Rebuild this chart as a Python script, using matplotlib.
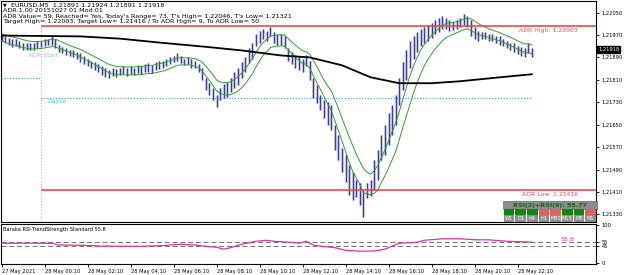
import matplotlib
matplotlib.use("Agg")
import matplotlib.pyplot as plt
import matplotlib.transforms as mtransforms
from matplotlib.patches import Rectangle
import numpy as np
import pandas as pd

# ---------------- data ----------------
highs = [1.21975, 1.21968, 1.21961, 1.21957, 1.21954, 1.21950, 1.21943, 1.21943, 1.21940, 1.21943,
         1.21947, 1.21950, 1.21954, 1.21957, 1.21965, 1.21957, 1.21933, 1.21926, 1.21922, 1.21915,
         1.21915, 1.21908, 1.21904, 1.21894, 1.21886, 1.21879, 1.21872, 1.21865, 1.21858, 1.21851,
         1.21844, 1.21851, 1.21847, 1.21854, 1.21858, 1.21851, 1.21858, 1.21854, 1.21862, 1.21858,
         1.21865, 1.21869, 1.21862, 1.21872, 1.21879, 1.21876, 1.21886, 1.21890, 1.21894, 1.21904,
         1.21894, 1.21886, 1.21890, 1.21883, 1.21879, 1.21865, 1.21854, 1.21815, 1.21798, 1.21780,
         1.21755, 1.21780, 1.21795, 1.21801, 1.21815, 1.21837, 1.21851, 1.21872, 1.21890, 1.21922,
         1.21943, 1.21972, 1.21986, 1.21993, 1.21986, 1.22000, 1.21979, 1.21972, 1.21975, 1.21965,
         1.21922, 1.21908, 1.21897, 1.21894, 1.21886, 1.21897, 1.21879, 1.21815, 1.21791, 1.21755,
         1.21737, 1.21730, 1.21719, 1.21648, 1.21613, 1.21566, 1.21541, 1.21506, 1.21481, 1.21453,
         1.21442, 1.21417, 1.21442, 1.21453, 1.21524, 1.21559, 1.21613, 1.21648, 1.21691, 1.21719,
         1.21755, 1.21815, 1.21872, 1.21915, 1.21950, 1.21968, 1.21979, 1.21993, 1.21997, 1.22007,
         1.22011, 1.22022, 1.22029, 1.22039, 1.22029, 1.22022, 1.22018, 1.22025, 1.22032, 1.22046,
         1.22036, 1.22022, 1.21997, 1.21986, 1.21979, 1.21982, 1.21975, 1.21975, 1.21968, 1.21965,
         1.21957, 1.21950, 1.21943, 1.21940, 1.21929, 1.21926, 1.21922, 1.21940, 1.21924]
lows = [1.21950, 1.21940, 1.21933, 1.21926, 1.21929, 1.21922, 1.21915, 1.21918, 1.21915, 1.21918,
        1.21922, 1.21926, 1.21929, 1.21933, 1.21936, 1.21922, 1.21908, 1.21904, 1.21897, 1.21894,
        1.21890, 1.21886, 1.21872, 1.21865, 1.21858, 1.21851, 1.21844, 1.21837, 1.21826, 1.21819,
        1.21815, 1.21823, 1.21819, 1.21826, 1.21830, 1.21823, 1.21830, 1.21826, 1.21833, 1.21830,
        1.21837, 1.21837, 1.21833, 1.21844, 1.21847, 1.21851, 1.21858, 1.21865, 1.21872, 1.21879,
        1.21869, 1.21862, 1.21865, 1.21854, 1.21851, 1.21837, 1.21808, 1.21773, 1.21755, 1.21737,
        1.21712, 1.21737, 1.21744, 1.21748, 1.21766, 1.21780, 1.21791, 1.21815, 1.21837, 1.21869,
        1.21886, 1.21929, 1.21943, 1.21957, 1.21950, 1.21965, 1.21943, 1.21933, 1.21936, 1.21922,
        1.21879, 1.21865, 1.21851, 1.21844, 1.21837, 1.21858, 1.21808, 1.21744, 1.21727, 1.21702,
        1.21673, 1.21648, 1.21630, 1.21559, 1.21524, 1.21481, 1.21446, 1.21400, 1.21382, 1.21392,
        1.21364, 1.21321, 1.21389, 1.21396, 1.21417, 1.21453, 1.21524, 1.21541, 1.21577, 1.21613,
        1.21648, 1.21719, 1.21773, 1.21808, 1.21851, 1.21886, 1.21908, 1.21929, 1.21943, 1.21950,
        1.21961, 1.21972, 1.21979, 1.21993, 1.21993, 1.21986, 1.21989, 1.21993, 1.22000, 1.22007,
        1.22000, 1.21968, 1.21957, 1.21950, 1.21954, 1.21957, 1.21950, 1.21947, 1.21940, 1.21936,
        1.21929, 1.21922, 1.21915, 1.21908, 1.21901, 1.21894, 1.21890, 1.21904, 1.21891]

slow_ma_idx = [0, 22, 33, 44, 56, 67, 78, 86, 95, 103, 111, 120, 128, 139, 148]
slow_ma_vals = [1.21968, 1.21965, 1.21957, 1.21943, 1.21929, 1.21915, 1.21897, 1.21890,
                1.21862, 1.21819, 1.21798, 1.21798, 1.21805, 1.21819, 1.21830]

rsi_idx = [0, 5, 14, 16, 22, 28, 33, 39, 44, 50, 54, 57, 60, 62, 64, 67, 71, 74, 76, 81,
           83, 85, 87, 89, 93, 96, 100, 104, 107, 109, 111, 116, 118, 123, 128, 132, 136, 141, 145, 148]
rsi_vals = [52.6, 53.0, 52.6, 48.0, 47.4, 45.0, 44.7, 44.7, 46.0, 50.0, 48.0, 44.7, 42.0, 37.0,
            41.0, 50.0, 58.0, 60.5, 58.0, 55.0, 53.0, 58.0, 48.0, 45.0, 41.0, 34.0, 31.6, 32.0,
            37.0, 45.0, 52.6, 55.3, 60.5, 64.5, 64.5, 62.0, 61.8, 58.0, 56.6, 55.8]

time_idx = [0, 12, 24, 36, 48, 60, 72, 84, 96, 108, 120, 132, 144]
time_labels = ["27 May 2021", "28 May 00:10", "28 May 02:10", "28 May 04:10", "28 May 06:10",
               "28 May 08:10", "28 May 10:10", "28 May 12:10", "28 May 14:10", "28 May 16:10",
               "28 May 18:10", "28 May 20:10", "28 May 22:10"]
price_ticks = [1.22050, 1.21970, 1.21890, 1.21810, 1.21730, 1.21650, 1.21570, 1.21490, 1.21410, 1.21330]

adr_high = 1.22003
adr_low = 1.21416
prev_level = 1.21815
day_lo = 1.21746
adr_start_idx = 11
last_price = 1.21918
rsi_levels = [55, 45]
rsi_last = 55.8
rsi_combo = 55.77
tf_labels = ["W1", "D1", "H4", "H1", "M30", "M15", "M5", "M1"]
tf_up = [1, 1, 1, 0, 0, 1, 1, 0]

header = ["EURUSD,M5  1.21891 1.21924 1.21891 1.21918",
          "ADR 1.00 20151027 01 Mod 01",
          "ADR Value= 59, Reached= Yes, Today's Range= 73, T's High= 1.22046, T's Low= 1.21321",
          "Target High= 1.22003, Target Low= 1.21416 / To ADR High= 9, To ADR Low= 50"]

# ---------------- figure ----------------
W, H = 625, 275
fig = plt.figure(figsize=(W / 100, H / 100), dpi=100)
fig.patch.set_facecolor("white")


def rect(x0, y0, x1, y1):
    return [x0 / W, 1 - y1 / H, (x1 - x0) / W, (y1 - y0) / H]


ax = fig.add_axes(rect(0.5, 0.5, 596, 222))
axi = fig.add_axes(rect(0.5, 223.5, 596, 264))

n = len(highs)
x = np.arange(n)
px_per_bar = 3.583
xl = (-0.3, -0.3 + 595.5 / px_per_bar)
ylim = (1.21303, 1.22093)

# bars
ax.vlines(x, lows, highs, color="#c6c6e4", lw=2.2, zorder=2)
ax.vlines(x, lows, highs, color="#3e3e98", lw=0.75, zorder=3)

# MA channel
hs = pd.Series(highs)
ls_ = pd.Series(lows)
ma_hi = hs.ewm(span=7).mean()
ma_lo = ls_.ewm(span=7).mean()
ax.plot(x, ma_hi, color="#2ca02c", lw=0.7, zorder=4)
ax.plot(x, ma_lo, color="#2ca02c", lw=0.7, zorder=4)

# slow MA
ax.plot(slow_ma_idx, slow_ma_vals, color="black", lw=1.3, zorder=4)

# ADR lines
ax.hlines([adr_high, adr_low], adr_start_idx, xl[1], color="#f04848", lw=1.2, zorder=5)
ax.hlines(prev_level, xl[0], adr_start_idx, color="#3c8cf0", lw=0.8, linestyles=(0, (1, 1.6)), zorder=5)
ax.hlines(day_lo, adr_start_idx, n - 1, color="#3c8cf0", lw=0.8, linestyles=(0, (1, 1.6)), zorder=5)
ax.vlines(adr_start_idx, ylim[0], adr_high, color="#b4b4b4", lw=0.8, linestyles=(0, (1, 1.6)), zorder=1)

fs_small = 3.7
ax.text(adr_start_idx + 0.5, 1.21896, "ADR Start", color="#a3b8cc", fontsize=4.4,
        ha="center", va="center", zorder=6)
ax.text(adr_start_idx + 1.8, day_lo, "DayLo", color="#3cc8f5", fontsize=4.4,
        ha="left", va="top", zorder=6,
        transform=ax.transData + mtransforms.ScaledTranslation(0, -1.5 / 100, fig.dpi_scale_trans))
off = mtransforms.ScaledTranslation(-18 / 100, -2 / 100, fig.dpi_scale_trans)
ax.text(1.0, adr_high, "ADR High: %.5f" % adr_high, color="#f04860", fontsize=4.4, ha="right", va="top",
        transform=ax.get_yaxis_transform() + off, zorder=6)
ax.text(1.0, adr_low, "ADR Low: %.5f" % adr_low, color="#f04860", fontsize=4.4, ha="right", va="top",
        transform=ax.get_yaxis_transform() + off, zorder=6)

ax.set_xlim(xl)
ax.set_ylim(ylim)
ax.yaxis.tick_right()
ax.set_yticks(price_ticks)
ax.set_yticklabels(["%.5f" % p for p in price_ticks])
ax.tick_params(axis="y", length=2.5, width=0.6, pad=1.5, labelsize=fs_small)
ax.set_xticks([])
for s in ax.spines.values():
    s.set_linewidth(0.8)

# current price label
ax.text(1.0, last_price, "%.5f" % last_price,
        transform=ax.get_yaxis_transform() + mtransforms.ScaledTranslation(2 / 100, 0, fig.dpi_scale_trans),
        color="white", fontsize=fs_small, ha="left", va="center", zorder=10, clip_on=False,
        bbox=dict(boxstyle="square,pad=0.15", fc="black", ec="black"))

# header text
fig.text(3 / W, 1 - 5 / H, "\u25bc", fontsize=3.5, va="center", ha="left")
ys = [5, 10.7, 16.2, 21.7]
xs = [11, 3, 3, 3]
for t, yy, xx in zip(header, ys, xs):
    fig.text(xx / W, 1 - yy / H, t, fontsize=4.6, va="center", ha="left", color="black")

# RSI panel (bottom right)
x0p, x1p = 503, 596.5
fig.patches.append(Rectangle((x0p / W, 1 - 208.7 / H), (x1p - x0p) / W, 7.3 / H, transform=fig.transFigure,
                             fc="#8c8c8c", ec="#6a6a6a", lw=0.5, zorder=20))
fig.text((x0p + x1p) / 2 / W, 1 - 205.2 / H, "RSI(2)+RSI(9): %.2f" % rsi_combo, color="#0a6a0a",
         fontsize=4.6, ha="center", va="center", zorder=21, fontweight="bold")
cw = (x1p - x0p) / len(tf_labels)
for k, (lab, up) in enumerate(zip(tf_labels, tf_up)):
    cx = x0p + k * cw
    fig.patches.append(Rectangle(((cx + 0.5) / W, 1 - 214.8 / H), (cw - 1) / W, 5.5 / H,
                                 transform=fig.transFigure,
                                 fc="#088a08" if up else "#e06060", ec="none", zorder=20))
    fig.patches.append(Rectangle(((cx + 0.5) / W, 1 - 221.5 / H), (cw - 1) / W, 6.2 / H,
                                 transform=fig.transFigure, fc="#8c8c8c", ec="none", zorder=20))
    fig.text((cx + cw / 2) / W, 1 - 218.4 / H, lab, color="white", fontsize=3.6, ha="center",
             va="center", zorder=21)

# ---------------- indicator window ----------------
axi.plot(rsi_idx, rsi_vals, color="#e0309c", lw=0.9, zorder=3)
for lv in rsi_levels:
    axi.axhline(lv, color="#707070", lw=0.7, ls=(0, (5, 3)), zorder=2)
axi.set_xlim(xl)
axi.set_ylim(-2.6, 105.3)
axi.yaxis.tick_right()
axi.set_yticks([100, 55, 45, 0])
axi.set_yticklabels(["100", "55", "45", "0"])
axi.tick_params(axis="y", length=2.5, width=0.6, pad=1.5, labelsize=fs_small)
axi.set_xticks(time_idx)
axi.set_xticklabels(time_labels)
for lbl in axi.get_xticklabels():
    lbl.set_horizontalalignment("left")
axi.tick_params(axis="x", length=2, width=0.6, pad=1.5, labelsize=fs_small)
axi.text(3 / 596, 0.86, "Baraka RSI-TrendStrength Standard %.1f" % rsi_last, transform=axi.transAxes,
         fontsize=3.7, ha="left", va="center")
axi.text(156, 62, "%.1f" % rsi_last, color="#e0309c", fontsize=4.6, ha="left", va="center")
for s in axi.spines.values():
    s.set_linewidth(0.8)

fig.savefig("out.png", dpi=100, facecolor="white")
